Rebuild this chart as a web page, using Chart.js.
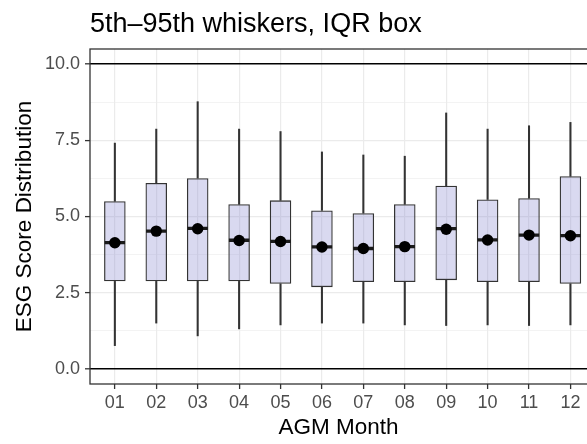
<!DOCTYPE html>
<html>
<head>
<meta charset="utf-8">
<script src="https://cdn.jsdelivr.net/npm/chart.js@4.4.0/dist/chart.umd.min.js"></script>
<style>
    html, body { margin: 0; padding: 0; background: #fff; overflow: hidden; }
    #esgBoxChart { display: block; width: 587px; height: 444px; }
</style>
</head>
<body>
<canvas id="esgBoxChart" width="587" height="444"></canvas>
<script>
// du lieu doc tu hinh: 5th/95th whisker, Q1/Q3 box, median, mean
const months = ['01', '02', '03', '04', '05', '06', '07', '08', '09', '10', '11', '12'];
const p05    = [0.76, 1.50, 1.08, 1.31, 1.44, 1.50, 1.50, 1.44, 1.42, 1.44, 1.42, 1.44];
const q1     = [2.87, 2.87, 2.87, 2.87, 2.79, 2.68, 2.85, 2.85, 2.91, 2.85, 2.85, 2.79];
const median = [4.14, 4.52, 4.61, 4.22, 4.18, 4.00, 3.95, 4.01, 4.60, 4.23, 4.39, 4.37];
const mean   = [4.14, 4.52, 4.60, 4.21, 4.18, 4.00, 3.95, 4.01, 4.58, 4.23, 4.39, 4.37];
const q3     = [5.50, 6.10, 6.26, 5.40, 5.53, 5.20, 5.11, 5.40, 6.01, 5.56, 5.60, 6.32];
const p95    = [7.41, 7.87, 8.77, 7.87, 7.79, 7.12, 7.02, 6.98, 8.40, 7.87, 7.98, 8.09];

const yMajorTicks = [0, 2.5, 5, 7.5, 10];
const yMinorTicks = [1.25, 3.75, 6.25, 8.75];
const refLines = [0, 10];

const chartTitle = '5th\u201395th whiskers, IQR box';
const FONT = '"Liberation Sans", Arial, sans-serif';

// tieu de + khung panel (kieu ggplot theme_bw), mep phai bi cat
const panelPlugin = {
    id: 'panelPlugin',
    afterDraw(chart) {
        const { ctx, chartArea } = chart;
        ctx.save();
        ctx.strokeStyle = '#333333';
        ctx.lineWidth = 1.3;
        ctx.strokeRect(chartArea.left, chartArea.top, chartArea.right - chartArea.left + 20, chartArea.bottom - chartArea.top);
        ctx.fillStyle = '#000';
        ctx.font = '27px ' + FONT;
        ctx.textBaseline = 'alphabetic';
        ctx.textAlign = 'left';
        ctx.fillText(chartTitle, chartArea.left, 32);
        ctx.restore();
    }
};

const isMajor = v => yMajorTicks.includes(v);

const ctx = document.getElementById('esgBoxChart').getContext('2d');
const esgBoxChart = new Chart(ctx, {
    type: 'bar',
    data: {
        labels: months,
        datasets: [
            {
                label: 'lower whisker',
                data: months.map((m, i) => [p05[i], q1[i]]),
                backgroundColor: '#333333',
                barThickness: 1.4,
                grouped: false,
                order: 5
            },
            {
                label: 'upper whisker',
                data: months.map((m, i) => [q3[i], p95[i]]),
                backgroundColor: '#333333',
                barThickness: 1.4,
                grouped: false,
                order: 4
            },
            {
                label: 'IQR',
                data: months.map((m, i) => [q1[i], q3[i]]),
                backgroundColor: 'rgba(140, 140, 210, 0.33)',
                borderColor: '#333333',
                borderWidth: 1.3,
                borderSkipped: false,
                barPercentage: 0.52,
                categoryPercentage: 1,
                grouped: false,
                order: 3
            },
            {
                type: 'line',
                label: 'median',
                data: median,
                showLine: false,
                pointStyle: 'line',
                pointRadius: 10.2,
                pointBorderColor: '#1a1a1a',
                pointBorderWidth: 3.3,
                order: 2
            },
            {
                type: 'line',
                label: 'mean',
                data: mean,
                showLine: false,
                pointStyle: 'circle',
                pointRadius: 5.7,
                pointBackgroundColor: '#000',
                pointBorderWidth: 0,
                order: 1
            }
        ]
    },
    options: {
        responsive: false,
        animation: false,
        events: [],
        layout: {
            autoPadding: false, // khong chua cho diem median tran ra ngoai
            padding: { top: 49, right: 0, bottom: 0, left: 0 }
        },
        plugins: {
            legend: { display: false },
            title: { display: false },
            tooltip: { enabled: false }
        },
        scales: {
            x: {
                offset: true,
                // ggplot mo rong 0.6 don vi ben trai; ben phai panel bi cat o mep hinh
                afterBuildTicks: s => {
                    s._startValue = -0.6;
                    s._valueRange = months.length;
                },
                afterFit: s => {
                    s.height = 60;
                    s.paddingLeft = 0;
                    s.paddingRight = 0;
                },
                border: { display: false },
                grid: {
                    offset: false,
                    color: '#ebebeb',
                    lineWidth: 1.2,
                    tickColor: '#333333',
                    tickWidth: 1.3,
                    tickLength: 5
                },
                ticks: {
                    color: '#4d4d4d',
                    font: { family: FONT, size: 18 },
                    padding: 3,
                    maxRotation: 0,
                    autoSkip: false
                },
                title: {
                    display: true,
                    text: 'AGM Month',
                    color: '#000',
                    font: { family: FONT, size: 22.5 },
                    padding: { top: 0, bottom: 3 }
                }
            },
            y: {
                min: -0.5,
                max: 10.5,
                afterBuildTicks: s => {
                    s.ticks = yMajorTicks.concat(yMinorTicks).sort((a, b) => a - b).map(v => ({ value: v }));
                },
                afterFit: s => { s.width = 90; },
                border: { display: false },
                grid: {
                    color: c => refLines.includes(c.tick.value) ? '#000000' : '#ebebeb',
                    lineWidth: c => refLines.includes(c.tick.value) ? 1.6 : (isMajor(c.tick.value) ? 1.2 : 0.6),
                    tickColor: c => isMajor(c.tick.value) ? '#333333' : 'rgba(0,0,0,0)',
                    tickWidth: 1.3,
                    tickLength: 5
                },
                ticks: {
                    color: '#4d4d4d',
                    font: { family: FONT, size: 18 },
                    padding: 5,
                    callback: v => isMajor(v) ? v.toFixed(1) : ''
                },
                title: {
                    display: true,
                    text: 'ESG Score Distribution',
                    color: '#000',
                    font: { family: FONT, size: 22.5 },
                    padding: { top: 11, bottom: 0 }
                }
            }
        }
    },
    plugins: [panelPlugin]
});
</script>
</body>
</html>
